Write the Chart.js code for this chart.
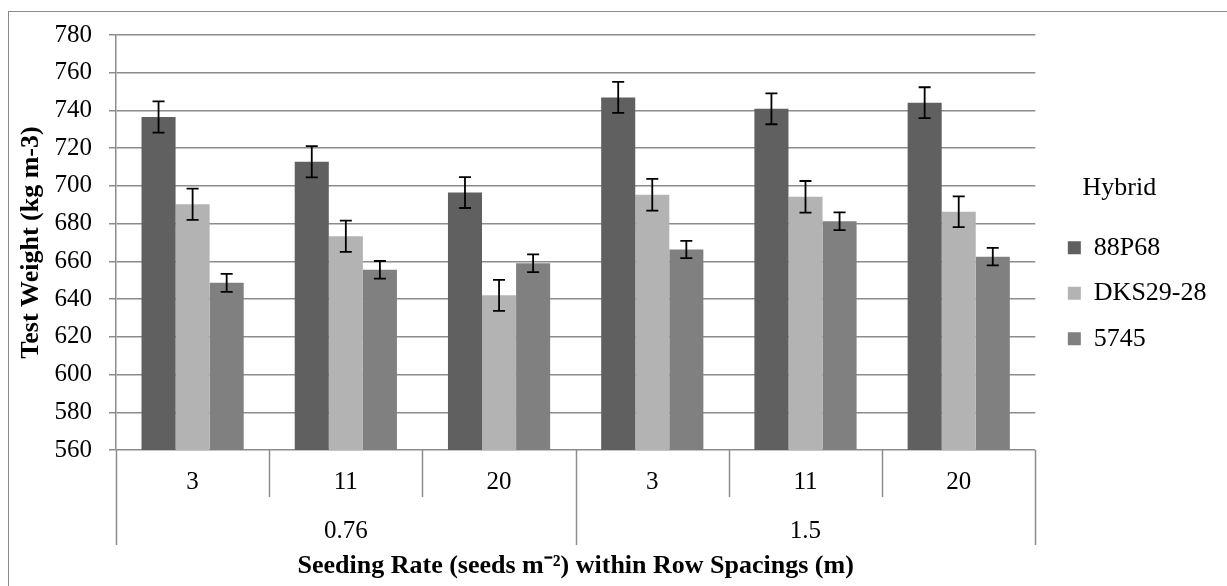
<!DOCTYPE html>
<html>
<head>
<meta charset="utf-8">
<script src="https://cdn.jsdelivr.net/npm/chart.js@4.4.1/dist/chart.umd.min.js"></script>
<style>
  html, body { margin: 0; padding: 0; background: #fff; overflow: hidden; }
  #frame { position: absolute; left: 8px; top: 11px; width: 1300px; height: 700px; border: 1px solid #8a8a8a; }
  #chart { position: absolute; left: 0; top: 0; }
</style>
</head>
<body>
<div id="frame"></div>
<canvas id="chart" width="1227" height="586"></canvas>
<script>
// seeding rates (inner categories) and row spacings (outer groups)
const seedingRates = ['3', '11', '20', '3', '11', '20'];
const rowSpacings = ['0.76', '1.5'];
const hybrids = ['88P68', 'DKS29-28', '5745'];

// test weight means, kg m-3
const w88P68 = [736.5, 712.8, 696.5, 746.9, 740.9, 744.1];
const wDKS = [690.3, 673.3, 642.0, 695.3, 694.2, 686.3];
const w5745 = [648.6, 655.5, 659.0, 666.3, 681.3, 662.5];

// error bar half lengths
const e88P68 = [8.3, 8.3, 8.2, 8.2, 8.2, 8.2];
const eDKS = [8.3, 8.3, 8.2, 8.4, 8.4, 8.1];
const e5745 = [4.8, 4.7, 4.7, 4.6, 4.7, 4.6];

const colors = ['#606060', '#b3b3b3', '#808080'];
const serif = '"Liberation Serif", "Times New Roman", serif';
const gridGray = '#8c8c8c';

const errorBars = {
  id: 'errorBars',
  afterDatasetsDraw(chart) {
    const ctx = chart.ctx;
    const y = chart.scales.y;
    ctx.save();
    ctx.strokeStyle = '#000';
    ctx.lineWidth = 1.8;
    chart.data.datasets.forEach((ds, i) => {
      const meta = chart.getDatasetMeta(i);
      meta.data.forEach((bar, j) => {
        const top = y.getPixelForValue(ds.data[j] + ds.errors[j]);
        const bot = y.getPixelForValue(ds.data[j] - ds.errors[j]);
        ctx.beginPath();
        ctx.moveTo(bar.x, top); ctx.lineTo(bar.x, bot);
        ctx.moveTo(bar.x - 6, top); ctx.lineTo(bar.x + 6, top);
        ctx.moveTo(bar.x - 6, bot); ctx.lineTo(bar.x + 6, bot);
        ctx.stroke();
      });
    });
    ctx.restore();
  }
};

// vertical separators between the category labels
const dividers = {
  id: 'dividers',
  afterDraw(chart) {
    const ctx = chart.ctx;
    const x = chart.scales.x;
    const x2 = chart.scales.x2;
    const n = seedingRates.length;
    const step = (x.right - x.left) / n;
    const per = n / rowSpacings.length;
    ctx.save();
    ctx.strokeStyle = gridGray;
    ctx.lineWidth = 1.5;
    for (let i = 0; i <= n; i++) {
      const px = Math.round(x.left + i * step) + 0.5;
      const end = (i % per === 0) ? x2.top + 48 : x.bottom;
      ctx.beginPath();
      ctx.moveTo(px, chart.chartArea.bottom);
      ctx.lineTo(px, end);
      ctx.stroke();
    }
    ctx.restore();
  }
};

new Chart(document.getElementById('chart'), {
  type: 'bar',
  data: {
    labels: seedingRates,
    datasets: [
      { label: hybrids[0], data: w88P68, errors: e88P68, backgroundColor: colors[0], borderWidth: 0 },
      { label: hybrids[1], data: wDKS, errors: eDKS, backgroundColor: colors[1], borderWidth: 0 },
      { label: hybrids[2], data: w5745, errors: e5745, backgroundColor: colors[2], borderWidth: 0 }
    ]
  },
  options: {
    responsive: false,
    animation: false,
    devicePixelRatio: 1,
    categoryPercentage: 0.667,
    barPercentage: 1,
    layout: { padding: { left: 12, top: 35, right: 10.5, bottom: 1 } },
    plugins: {
      tooltip: { enabled: false },
      legend: {
        position: 'right',
        align: 'start',
        title: {
          display: true,
          text: 'Hybrid    ',
          color: '#000',
          font: { family: serif, size: 26 },
          padding: { top: 140, bottom: 9 }
        },
        labels: {
          color: '#000',
          boxWidth: 13,
          boxHeight: 13,
          padding: 19.5,
          font: { family: serif, size: 26 }
        }
      }
    },
    scales: {
      x: {
        offset: true,
        grid: { display: false, drawTicks: false, tickLength: 0 },
        border: { display: false },
        ticks: { color: '#000', padding: 17, font: { family: serif, size: 25 } },
        afterFit(scale) { scale.height = 47; }
      },
      x2: {
        type: 'category',
        labels: rowSpacings,
        position: 'bottom',
        offset: true,
        grid: { display: false, drawTicks: false, tickLength: 0 },
        border: { display: false },
        ticks: { color: '#000', padding: 19, font: { family: serif, size: 25 } },
        title: {
          display: true,
          text: 'Seeding Rate (seeds m\u207B\u00B2) within Row Spacings (m)',
          color: '#000',
          font: { family: serif, size: 26, weight: 'bold' },
          padding: { top: 5, bottom: 3 }
        },
        afterFit(scale) { scale.height = 88; }
      },
      y: {
        min: 560,
        max: 780,
        ticks: { stepSize: 20, color: '#000', padding: 17, font: { family: serif, size: 25 } },
        grid: { color: gridGray, lineWidth: 1.5, tickLength: 7, tickColor: gridGray },
        border: { display: true, color: gridGray, width: 1.5 },
        title: {
          display: true,
          text: 'Test Weight (kg m-3)',
          color: '#000',
          font: { family: serif, size: 26, weight: 'bold' },
          padding: { top: 4, bottom: 7 }
        },
        afterFit(scale) { scale.width = 104; }
      },
      yR: {
        position: 'right',
        grid: { display: false, drawTicks: false },
        border: { display: false },
        ticks: { display: false },
        afterFit(scale) { scale.width = 13; }
      }
    }
  },
  plugins: [errorBars, dividers]
});
</script>
</body>
</html>
